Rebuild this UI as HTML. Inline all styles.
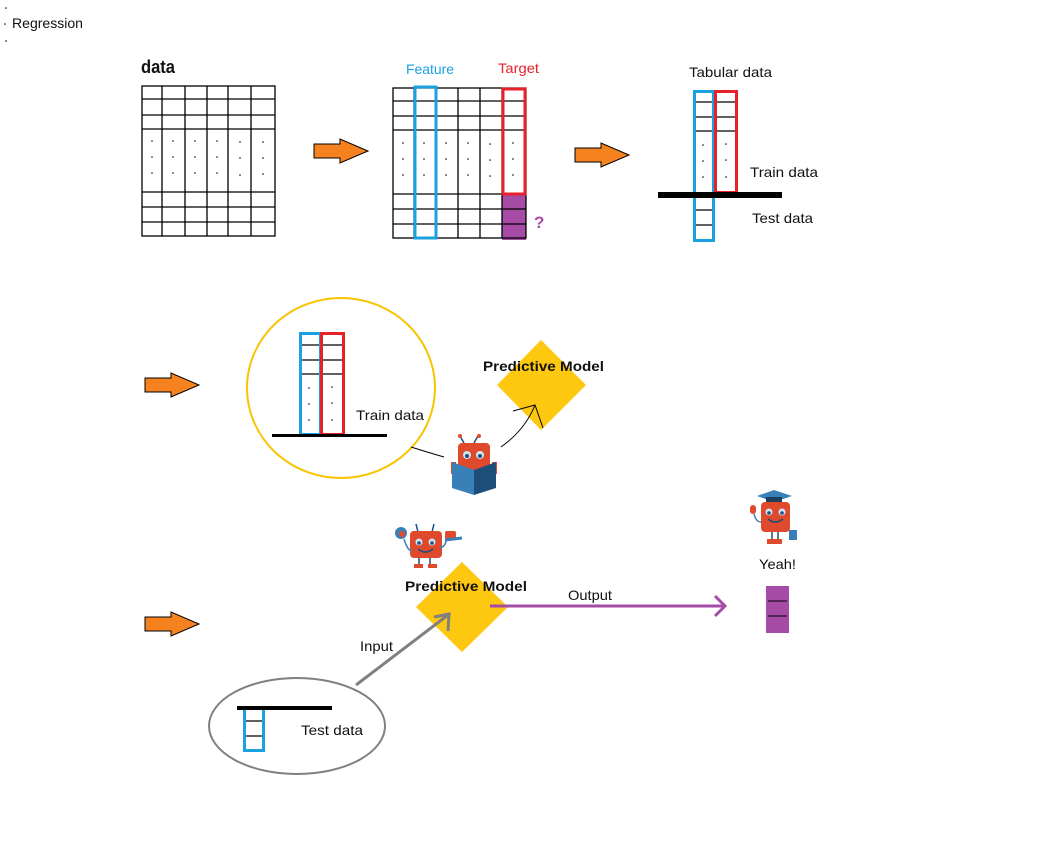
<!DOCTYPE html>
<html><head><meta charset="utf-8"><style>
html,body{margin:0;padding:0;background:#fff;}
svg{display:block;}
text{font-family:"Liberation Sans",sans-serif;font-size:14px;fill:#111;}
</style></head><body>
<svg width="1050" height="856" viewBox="0 0 1050 856" xmlns="http://www.w3.org/2000/svg">
<defs>
<g id="oarrow"><polygon points="0,5 26,5 26,0 54,12 26,24 26,19 0,19" fill="#f5821f" stroke="#000" stroke-width="1"/></g>
</defs>
<!-- title -->
<circle cx="6" cy="8" r="0.8" fill="#000"/><circle cx="5" cy="24" r="0.8" fill="#000"/><circle cx="6" cy="41" r="0.8" fill="#000"/>
<text x="12" y="28" textLength="71" lengthAdjust="spacingAndGlyphs">Regression</text>

<!-- table 1 -->
<text x="141" y="73" style="font-size:18px;font-weight:bold" textLength="34" lengthAdjust="spacingAndGlyphs">data</text>
<g stroke="#000" stroke-width="1.3" fill="none">
<rect x="142" y="86" width="133" height="150"/>
<path d="M142 99H275M142 115H275M142 129H275M142 192H275M142 207H275M142 222H275"/>
<path d="M162 86V236M185 86V236M207 86V236M228 86V236M251 86V236"/>
</g>
<g fill="#000">
<circle cx="152" cy="141" r="0.8"/><circle cx="152" cy="157" r="0.8"/><circle cx="152" cy="173" r="0.8"/>
<circle cx="173" cy="141" r="0.8"/><circle cx="173" cy="157" r="0.8"/><circle cx="173" cy="173" r="0.8"/>
<circle cx="195" cy="141" r="0.8"/><circle cx="195" cy="157" r="0.8"/><circle cx="195" cy="173" r="0.8"/>
<circle cx="217" cy="141" r="0.8"/><circle cx="217" cy="157" r="0.8"/><circle cx="217" cy="173" r="0.8"/>
<circle cx="240" cy="142" r="0.8"/><circle cx="240" cy="158" r="0.8"/><circle cx="240" cy="175" r="0.8"/>
<circle cx="263" cy="142" r="0.8"/><circle cx="263" cy="158" r="0.8"/><circle cx="263" cy="174" r="0.8"/>
</g>
<use href="#oarrow" x="314" y="139"/>

<!-- table 2 -->
<text x="406" y="74" style="fill:#1ba1e2" textLength="48" lengthAdjust="spacingAndGlyphs">Feature</text>
<text x="498" y="73" style="fill:#e8202a" textLength="41" lengthAdjust="spacingAndGlyphs">Target</text>
<rect x="502" y="194" width="24" height="46" fill="#a64ca6"/>
<g stroke="#000" stroke-width="1.3" fill="none">
<rect x="393" y="88" width="133" height="150"/>
<path d="M393 101H526M393 116H526M393 130H526M393 194H526M393 209H526M393 224H526"/>
<path d="M414 88V238M436 88V238M458 88V238M480 88V238M502 88V238"/>
</g>
<g fill="#000">
<circle cx="403" cy="143" r="0.8"/><circle cx="403" cy="159" r="0.8"/><circle cx="403" cy="175" r="0.8"/>
<circle cx="424" cy="143" r="0.8"/><circle cx="424" cy="159" r="0.8"/><circle cx="424" cy="175" r="0.8"/>
<circle cx="446" cy="143" r="0.8"/><circle cx="446" cy="159" r="0.8"/><circle cx="446" cy="175" r="0.8"/>
<circle cx="468" cy="143" r="0.8"/><circle cx="468" cy="159" r="0.8"/><circle cx="468" cy="175" r="0.8"/>
<circle cx="490" cy="144" r="0.8"/><circle cx="490" cy="160" r="0.8"/><circle cx="490" cy="176" r="0.8"/>
<circle cx="513" cy="143" r="0.8"/><circle cx="513" cy="159" r="0.8"/><circle cx="513" cy="175" r="0.8"/>
</g>
<rect x="415" y="87" width="21" height="151" fill="none" stroke="#1ba1e2" stroke-width="3"/>
<rect x="503" y="89" width="22" height="105" fill="none" stroke="#e8202a" stroke-width="3"/>
<text x="534" y="228" style="fill:#a64ca6;font-weight:bold;font-size:17px">?</text>
<use href="#oarrow" x="575" y="143"/>

<!-- tabular -->
<text x="689" y="77" textLength="83" lengthAdjust="spacingAndGlyphs">Tabular data</text>
<g stroke="#000" stroke-width="1.3"><path d="M695 102H736M695 117H736M695 131H736M695 210H713M695 225H713"/></g>
<g fill="#000"><circle cx="703" cy="145" r="0.8"/><circle cx="703" cy="161" r="0.8"/><circle cx="703" cy="177" r="0.8"/>
<circle cx="726" cy="144" r="0.8"/><circle cx="726" cy="160" r="0.8"/><circle cx="726" cy="177" r="0.8"/></g>
<rect x="694.5" y="91.5" width="19" height="149" fill="none" stroke="#1ba1e2" stroke-width="3"/>
<rect x="715.5" y="91.5" width="21" height="101" fill="none" stroke="#e8202a" stroke-width="3"/>
<rect x="658" y="192" width="124" height="6" fill="#000"/>
<text x="750" y="177" textLength="68" lengthAdjust="spacingAndGlyphs">Train data</text>
<text x="752" y="223" textLength="61" lengthAdjust="spacingAndGlyphs">Test data</text>

<!-- row 2 -->
<use href="#oarrow" x="145" y="373"/>
<ellipse cx="341" cy="388" rx="94" ry="90" fill="none" stroke="#f8c300" stroke-width="2"/>
<g stroke="#000" stroke-width="1.3"><path d="M302 345H342M302 360H342M302 374H342"/></g>
<g fill="#000"><circle cx="309" cy="388" r="0.8"/><circle cx="309" cy="404" r="0.8"/><circle cx="309" cy="420" r="0.8"/>
<circle cx="332" cy="387" r="0.8"/><circle cx="332" cy="403" r="0.8"/><circle cx="332" cy="420" r="0.8"/></g>
<rect x="300.5" y="333.5" width="20" height="101" fill="none" stroke="#1ba1e2" stroke-width="3"/>
<rect x="321.5" y="333.5" width="22" height="101" fill="none" stroke="#e8202a" stroke-width="3"/>
<rect x="272" y="434" width="115" height="3" fill="#000"/>
<text x="356" y="420" textLength="68" lengthAdjust="spacingAndGlyphs">Train data</text>
<polygon points="541,340 586,385 541,430 497,385" fill="#fec710"/>
<text x="483" y="371" style="font-weight:bold;font-size:14px" textLength="121" lengthAdjust="spacingAndGlyphs">Predictive Model</text>
<path d="M411 447 Q430 453 444 457" fill="none" stroke="#000" stroke-width="1"/>
<path d="M501 447 Q525 430 535 405" fill="none" stroke="#000" stroke-width="1"/>
<path d="M513 411 L535 405 L543 428" fill="none" stroke="#000" stroke-width="1"/>
<!-- robot reading -->
<g>
<path d="M464 443 L460 436 M474 443 L478 436" stroke="#1e4e79" stroke-width="1.5"/>
<circle cx="460" cy="436" r="2" fill="#e04a2c"/><circle cx="479" cy="436" r="2" fill="#e04a2c"/>
<rect x="458" y="443" width="32" height="28" rx="4" fill="#e04a2c"/>
<circle cx="467" cy="455" r="4" fill="#cce6f5"/><circle cx="480" cy="455" r="4" fill="#cce6f5"/>
<circle cx="467" cy="456" r="2" fill="#1e4e79"/><circle cx="480" cy="456" r="2" fill="#1e4e79"/>
<rect x="451" y="462" width="5" height="12" fill="#e04a2c"/><rect x="492" y="462" width="5" height="12" fill="#e04a2c"/>
<polygon points="452,462 474,470 474,495 452,488" fill="#3a80b8"/>
<polygon points="474,470 496,462 496,488 474,495" fill="#1d4e79"/>
</g>

<!-- row 3 -->
<use href="#oarrow" x="145" y="612"/>
<!-- robot with tools -->
<g>
<path d="M418 532 L416 524 M432 532 L434 524" stroke="#1e4e79" stroke-width="1.5"/>
<rect x="410" y="531" width="32" height="27" rx="4" fill="#e04a2c"/>
<circle cx="419" cy="542" r="3.5" fill="#cce6f5"/><circle cx="432" cy="542" r="3.5" fill="#cce6f5"/>
<circle cx="419" cy="543" r="1.8" fill="#1e4e79"/><circle cx="432" cy="543" r="1.8" fill="#1e4e79"/>
<path d="M418 549 Q425 555 433 549" stroke="#1e4e79" stroke-width="1.5" fill="none"/>
<circle cx="401" cy="533" r="6" fill="#3a80b8"/><circle cx="402" cy="534" r="3" fill="#e04a2c"/>
<rect x="445" y="531" width="11" height="9" rx="2" fill="#e04a2c"/>
<path d="M445 540 L462 538" stroke="#3a80b8" stroke-width="3"/>
<path d="M404 539 Q408 552 412 550 M440 548 Q446 546 446 540" stroke="#3a80b8" stroke-width="1.5" fill="none"/>
<path d="M419 558V566M430 558V566" stroke="#1e4e79" stroke-width="1.5"/>
<rect x="414" y="564" width="9" height="4" fill="#e04a2c"/><rect x="428" y="564" width="9" height="4" fill="#e04a2c"/>
</g>
<polygon points="462,562 508,607 462,652 416,607" fill="#fec710"/>
<text x="405" y="591" style="font-weight:bold;font-size:14px" textLength="122" lengthAdjust="spacingAndGlyphs">Predictive Model</text>
<path d="M490 606 H725" stroke="#a64ca6" stroke-width="3"/>
<path d="M715 596 L725 606 L715 616" stroke="#a64ca6" stroke-width="3" fill="none"/>
<text x="568" y="600" textLength="44" lengthAdjust="spacingAndGlyphs">Output</text>
<path d="M356 685 L448 615" stroke="#808080" stroke-width="3"/>
<path d="M434 617 L449 614 L448 631" stroke="#808080" stroke-width="3" fill="none"/>
<text x="360" y="651" textLength="33" lengthAdjust="spacingAndGlyphs">Input</text>
<ellipse cx="297" cy="726" rx="88" ry="48" fill="none" stroke="#808080" stroke-width="2"/>
<g stroke="#000" stroke-width="1.3"><path d="M245 721H263M245 736H263"/></g>
<rect x="244.5" y="708.5" width="19" height="42" fill="none" stroke="#1ba1e2" stroke-width="3"/>
<rect x="237" y="706" width="95" height="4" fill="#000"/>
<text x="301" y="735" textLength="62" lengthAdjust="spacingAndGlyphs">Test data</text>

<!-- graduate robot -->
<g>
<polygon points="757,496 774,490 792,496 774,502" fill="#3a80b8"/>
<rect x="766" y="497" width="16" height="7" fill="#1d3e5e"/>
<rect x="761" y="502" width="29" height="30" rx="4" fill="#e04a2c"/>
<circle cx="769" cy="512" r="3.5" fill="#cce6f5"/><circle cx="782" cy="512" r="3.5" fill="#cce6f5"/>
<circle cx="769" cy="513" r="1.8" fill="#1e4e79"/><circle cx="782" cy="513" r="1.8" fill="#1e4e79"/>
<path d="M768 519 Q775 525 783 519" stroke="#1e4e79" stroke-width="1.5" fill="none"/>
<rect x="750" y="505" width="6" height="9" rx="3" fill="#e04a2c"/>
<path d="M754 514 Q756 522 761 522" stroke="#3a80b8" stroke-width="1.5" fill="none"/>
<rect x="789" y="530" width="8" height="10" fill="#3a80b8"/>
<path d="M772 532V542M778 532V542" stroke="#1e4e79" stroke-width="1.5"/>
<rect x="767" y="539" width="8" height="5" fill="#e04a2c"/><rect x="775" y="539" width="7" height="5" fill="#e04a2c"/>
</g>
<text x="759" y="569" textLength="37" lengthAdjust="spacingAndGlyphs">Yeah!</text>
<rect x="766" y="586" width="23" height="47" fill="#a64ca6"/>
<path d="M768 601H787M768 616H787" stroke="#000" stroke-width="1"/>
</svg>
</body></html>
